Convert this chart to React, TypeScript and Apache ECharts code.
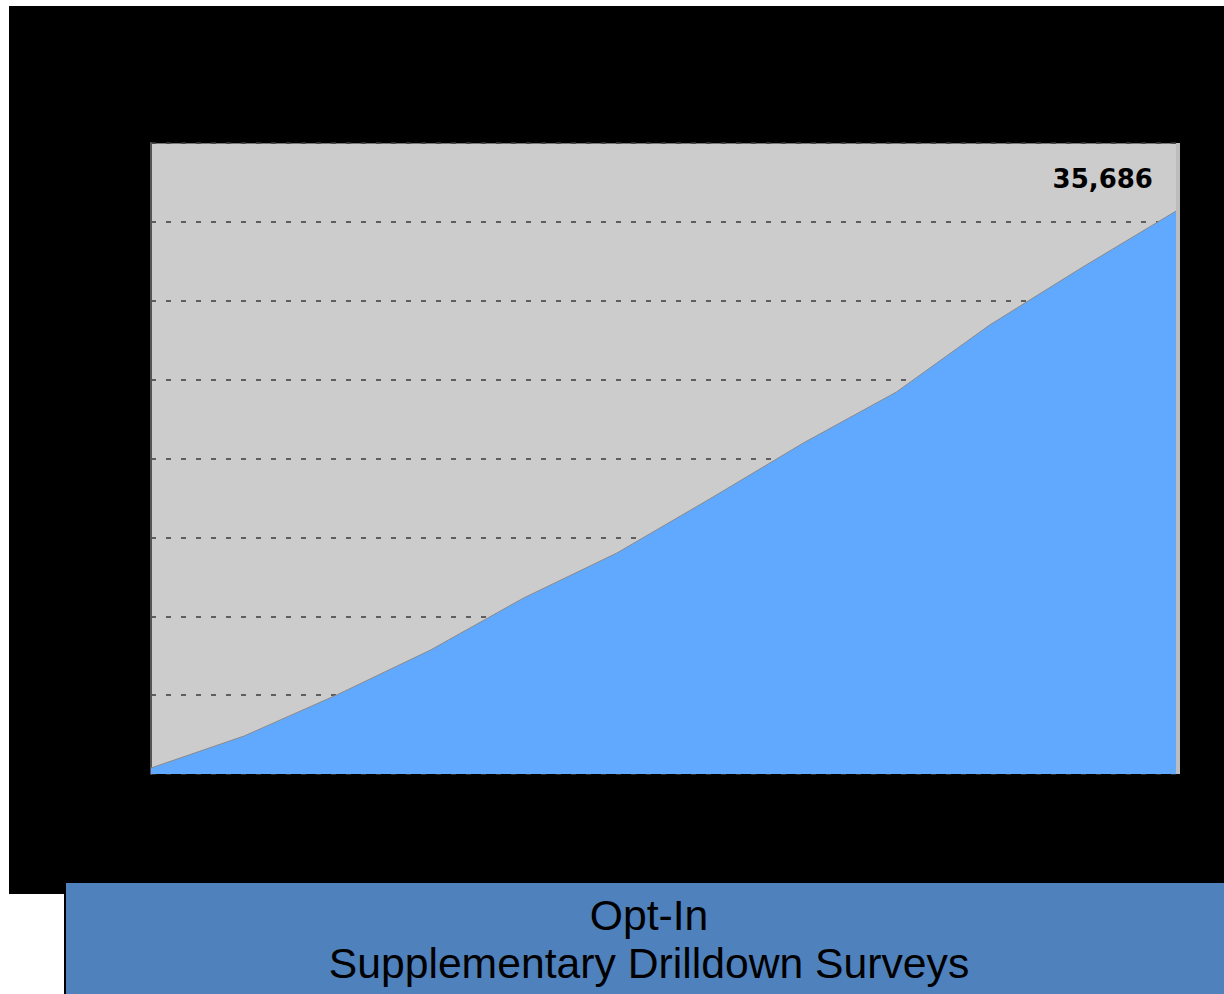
import React, { useEffect, useRef } from "react";
import * as echarts from "echarts";

const categories = ["1", "2", "3", "4", "5", "6", "7", "8", "9", "10", "11", "12"];
const optInValues = [380, 2410, 5030, 7860, 11160, 14010, 17450, 20980, 24215, 28460, 32140, 35686];
const yTicks = { min: 0, max: 40000, interval: 5000 };
const titleLines = ["Opt-In", "Supplementary Drilldown Surveys"];

export default function App() {
  const ref = useRef<HTMLDivElement>(null);

  useEffect(() => {
    if (!ref.current) return;
    const chart = echarts.init(ref.current, undefined, { renderer: "svg" });
    const last = optInValues.length - 1;
    const seriesData = optInValues.map((v, i) =>
      i === last
        ? {
            value: v,
            label: {
              show: true,
              position: "left",
              distance: 0,
              offset: [-23, -32],
              formatter: (p: any) => Number(p.value).toLocaleString("en-US"),
              fontFamily: "DejaVu Sans",
              fontWeight: "bold",
              fontSize: 26,
              color: "#000",
            },
          }
        : { value: v }
    );

    chart.setOption({
      animation: false,
      backgroundColor: "#ffffff",
      title: {
        text: titleLines.join("\n"),
        left: 649,
        top: 891,
        textAlign: "center",
        padding: 0,
        textStyle: {
          fontFamily: "Liberation Sans",
          fontSize: 42.7,
          fontWeight: "normal",
          lineHeight: 48,
          color: "#000000",
        },
      },
      graphic: [
        { type: "rect", z: -100, shape: { x: 9, y: 6, width: 1215, height: 888 }, style: { fill: "#000000" } },
        { type: "rect", z: -90, shape: { x: 151, y: 143, width: 1029, height: 631 }, style: { fill: "#cccccc" } },
        { type: "rect", z: 10, shape: { x: 1176, y: 143, width: 4, height: 631 }, style: { fill: "#bdbdbd" } },
        { type: "line", z: -80, shape: { x1: 151, y1: 143.5, x2: 1180, y2: 143.5 }, style: { stroke: "#777777", lineWidth: 1 } },
        { type: "rect", z: -100, shape: { x: 64, y: 883, width: 1160, height: 111 }, style: { fill: "#000000" } },
        { type: "rect", z: -95, shape: { x: 66, y: 883, width: 1158, height: 111 }, style: { fill: "#4f81bd" } },
      ],
      grid: { left: 151, top: 143, width: 1025, height: 631, show: false },
      xAxis: {
        type: "category",
        data: categories,
        boundaryGap: false,
        axisLine: { show: false },
        axisTick: { show: false },
        axisLabel: { show: false },
        splitLine: { show: false },
      },
      yAxis: {
        type: "value",
        min: yTicks.min,
        max: yTicks.max,
        interval: yTicks.interval,
        axisLine: { show: true, lineStyle: { color: "#555555", width: 2 } },
        axisTick: { show: false },
        axisLabel: { show: false },
        splitLine: { show: true, lineStyle: { color: "#3a3a3a", width: 1.5, type: [5, 10] } },
      },
      series: [
        {
          type: "line",
          data: seriesData,
          showSymbol: true,
          symbol: "circle",
          symbolSize: 0.1,
          itemStyle: { color: "rgba(0,0,0,0)", borderWidth: 0 },
          lineStyle: { color: "#8a8a8a", width: 1 },
          areaStyle: { color: "#61a8ff", opacity: 1 },
          z: 2,
        },
      ],
    });
    return () => chart.dispose();
  }, []);

  return (
    <div
      ref={ref}
      style={{ position: "absolute", left: 0, top: 0, width: 1224, height: 994 }}
    />
  );
}
